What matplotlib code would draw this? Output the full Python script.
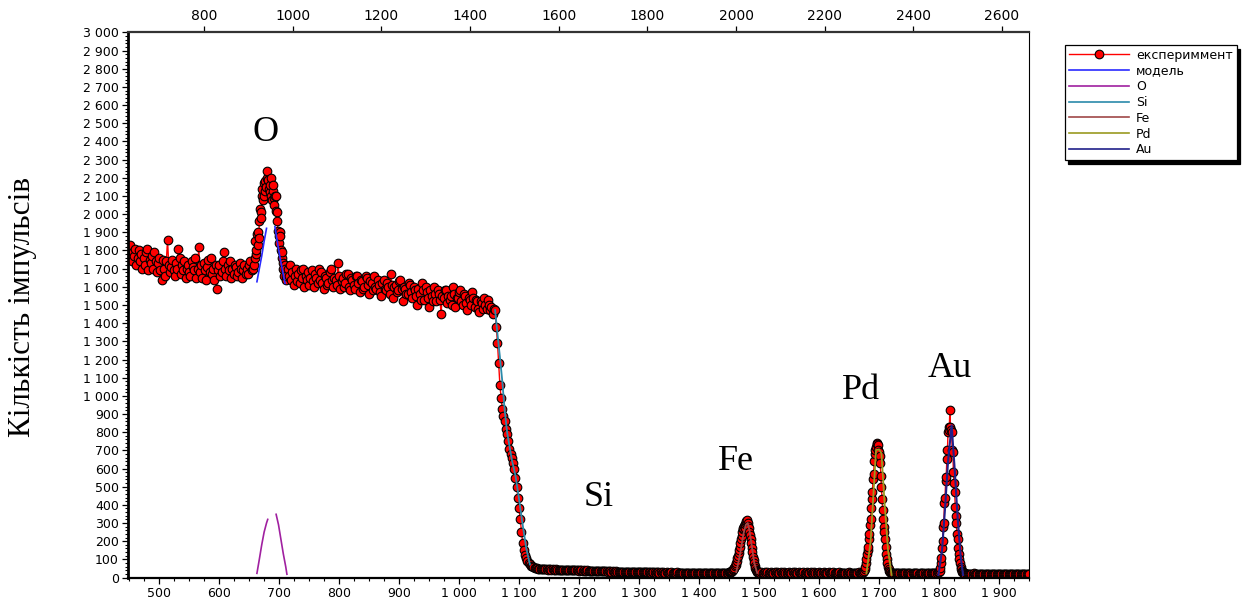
import numpy as np
import matplotlib
matplotlib.use("Agg")
import matplotlib.pyplot as plt
from matplotlib.ticker import MultipleLocator, FuncFormatter
from matplotlib.lines import Line2D

# ---------------- data (channel segments: start, step, counts) ----------------
left_start, left_step = 448, 2
left_counts = [1800, 1760, 1830, 1740, 1790, 1770, 1810, 1720, 1760, 1800,
               1740, 1780, 1700, 1760, 1720, 1790, 1810, 1690, 1750, 1730,
               1770, 1700, 1790, 1740, 1680, 1730, 1760, 1690, 1640, 1750,
               1700, 1660, 1740, 1860, 1720, 1680, 1710, 1750, 1690, 1660,
               1730, 1700, 1810, 1760, 1670, 1720, 1690, 1740, 1650, 1700,
               1720, 1680, 1660, 1740, 1710, 1690, 1760, 1650, 1700, 1820,
               1680, 1720, 1650, 1730, 1690, 1640, 1710, 1750, 1680, 1760,
               1670, 1700, 1640, 1720, 1590, 1690, 1720, 1660, 1680, 1740,
               1790, 1700, 1660, 1720, 1690, 1740, 1650, 1700, 1670, 1720,
               1710, 1660, 1680, 1730, 1700, 1650, 1690, 1720, 1670, 1700,
               1670, 1720, 1740, 1690, 1700]

opeak_start, opeak_step = 658, 1
opeak_counts = [1720, 1760, 1850, 1780, 1800, 1890, 1900, 1830, 1870, 1960,
                2030, 2010, 1980, 2100, 2140, 2080, 2100, 2170, 2180, 2130,
                2150, 2200, 2240, 2190, 2190, 2140, 2120, 2160, 2200, 2100,
                2080, 2130, 2160, 2090, 2050, 2100, 2100, 2020, 2010, 1960,
                1910, 1880, 1840, 1900, 1880, 1800, 1760, 1790, 1730, 1700,
                1660, 1720, 1700, 1640, 1660]

plateau_start, plateau_step = 714, 2
plateau_counts = [1700, 1660, 1720, 1640, 1680, 1610, 1660, 1700, 1630, 1670,
                  1620, 1690, 1650, 1700, 1600, 1660, 1640, 1680, 1610, 1650,
                  1690, 1630, 1600, 1670, 1650, 1620, 1700, 1640, 1680, 1620,
                  1590, 1660, 1650, 1610, 1620, 1680, 1700, 1640, 1600, 1650,
                  1640, 1610, 1730, 1660, 1590, 1630, 1650, 1600, 1620, 1670,
                  1670, 1600, 1580, 1650, 1640, 1610, 1590, 1660, 1660, 1620,
                  1570, 1640, 1630, 1590, 1600, 1660, 1650, 1610, 1560, 1630,
                  1620, 1580, 1660, 1600, 1590, 1640, 1610, 1570, 1550, 1620,
                  1640, 1590, 1580, 1620, 1600, 1560, 1670, 1610, 1540, 1600,
                  1610, 1570, 1580, 1630, 1640, 1590, 1520, 1600, 1590, 1560,
                  1560, 1620, 1610, 1570, 1540, 1600, 1580, 1550, 1500, 1590,
                  1560, 1530, 1620, 1580, 1530, 1600, 1570, 1540, 1490, 1580,
                  1550, 1520, 1600, 1560, 1520, 1580, 1560, 1530, 1450, 1550,
                  1540, 1580, 1580, 1510, 1550, 1530, 1550, 1500, 1600, 1560,
                  1490, 1540, 1540, 1570, 1580, 1520, 1500, 1560, 1550, 1510,
                  1470, 1540, 1530, 1500, 1570, 1540, 1490, 1530, 1520, 1480,
                  1460, 1520, 1510, 1480, 1540, 1500, 1480, 1530, 1500, 1470,
                  1490, 1450]

edge_start, edge_step = 1058, 2
edge_counts = [1480, 1470, 1380, 1290, 1180, 1060, 990, 930, 890, 860,
               820, 790, 750, 710, 680, 660, 630, 600, 550, 500,
               440, 380, 320, 250, 190, 150, 125, 105, 90, 80,
               72, 66, 62, 58, 55, 52, 50]

flat1_start, flat1_step = 1132, 2
flat1_counts = [48, 47, 48, 46, 47, 45, 46, 47, 44, 45,
                46, 44, 45, 43, 44, 45, 42, 43, 44, 42,
                43, 41, 42, 43, 41, 40, 42, 41, 40, 41,
                39, 40, 41, 39, 38, 40, 39, 38, 39, 37,
                38, 39, 37, 36, 38, 37, 36, 37, 35, 36,
                37, 35, 36, 34, 35, 36, 34, 35, 33, 34,
                35, 33, 34, 33, 32, 34, 33, 32, 33, 31,
                32, 33, 31, 32, 30, 31, 32, 30, 31, 30,
                31, 29, 30, 31, 29, 30, 28, 29, 30, 28,
                29, 30, 28, 29, 27, 28, 29, 28, 27, 28,
                29, 27, 28, 27, 28, 26, 27, 28, 27, 26,
                27, 28, 26, 27, 26, 27, 28, 26, 27, 26,
                27, 26, 27, 25, 26, 27, 26, 25, 26, 27,
                26, 25, 26, 27, 25, 26, 25, 26, 27, 25,
                26, 25, 26, 25, 27, 26, 25, 26, 25, 26,
                27, 26, 25, 26, 27, 26, 25, 26, 27]

fepeak_start, fepeak_step = 1450, 1
fepeak_counts = [28, 30, 31, 33, 35, 38, 42, 46, 50, 55,
                 62, 70, 80, 90, 105, 120, 135, 150, 170, 190,
                 210, 230, 250, 265, 275, 285, 270, 295, 300, 310,
                 315, 300, 285, 270, 250, 235, 210, 190, 165, 140,
                 115, 95, 80, 65, 52, 42, 36, 32, 29, 28, 27]

flat2_start, flat2_step = 1502, 2
flat2_counts = [27, 28, 27, 26, 28, 27, 29, 27, 26, 28,
                27, 26, 28, 27, 28, 26, 27, 29, 27, 26,
                28, 27, 26, 27, 28, 27, 26, 28, 27, 29,
                27, 26, 28, 27, 26, 27, 28, 26, 27, 28,
                26, 27, 28, 27, 26, 28, 27, 26, 27, 28,
                27, 26, 27, 28, 26, 27, 26, 28, 27, 26,
                27, 28, 26, 27, 26, 27, 28, 26, 27, 26,
                25, 27, 26, 27, 28, 26, 27, 26, 25, 27,
                26, 27, 28, 27, 26]

pdpeak_start, pdpeak_step = 1672, 1
pdpeak_counts = [27, 28, 32, 38, 45, 60, 80, 100, 130, 150,
                 170, 210, 240, 290, 320, 380, 430, 470, 540, 570,
                 640, 680, 700, 720, 740, 735, 730, 700, 690, 670,
                 630, 560, 500, 430, 370, 320, 280, 250, 210, 170,
                 130, 100, 80, 60, 45, 38, 32, 28, 27, 26,
                 26, 25, 25]

flat3_start, flat3_step = 1726, 2
flat3_counts = [25, 24, 26, 25, 24, 23, 25, 24, 25, 23,
                24, 25, 23, 24, 22, 24, 25, 23, 24, 23,
                22, 24, 23, 25, 24, 23, 22, 24, 23, 24,
                25, 23, 24, 26, 25, 27, 28]

aupeak_start, aupeak_step = 1800, 1
aupeak_counts = [28, 35, 50, 80, 110, 160, 200, 280, 300, 410,
                 440, 530, 555, 650, 700, 800, 830, 810, 920, 830,
                 810, 800, 700, 690, 580, 520, 470, 390, 340, 300,
                 240, 210, 160, 130, 100, 80, 60, 45, 38, 32,
                 28, 26, 24, 23, 22]

flat4_start, flat4_step = 1846, 2
flat4_counts = [21, 22, 21, 20, 22, 21, 23, 20, 21, 22,
                21, 20, 22, 21, 20, 21, 22, 19, 21, 20,
                22, 21, 20, 21, 19, 20, 22, 21, 20, 21,
                20, 22, 19, 21, 20, 21, 19, 20, 22, 20,
                21, 20, 19, 21, 20, 22, 20, 21, 19, 20,
                21, 20, 21]

# model and element curves (visible parts)
model_rise_ch = [663, 667, 671, 675, 679]
model_rise_val = [1628, 1700, 1770, 1850, 1922]
model_fall_ch = [693, 697, 701, 705, 710]
model_fall_val = [1931, 1850, 1770, 1700, 1619]
o_rise_ch = [663, 667, 671, 675, 679, 681]
o_rise_val = [23, 100, 180, 250, 300, 320]
o_fall_ch = [695, 699, 703, 707, 711, 713]
o_fall_val = [348, 290, 210, 130, 60, 18]
si_ch = [1060, 1064, 1068, 1072, 1076, 1080, 1088, 1094, 1100, 1106, 1112, 1118]
si_val = [1472, 1340, 1215, 1080, 920, 800, 647, 560, 430, 290, 160, 72]
fe_ch = [1462, 1466, 1470, 1474, 1478, 1481, 1484, 1488, 1492, 1497]
fe_val = [30, 90, 160, 240, 290, 300, 260, 170, 80, 25]
pd_ch = [1679, 1686, 1691, 1695, 1700, 1704, 1709, 1715, 1721]
pd_val = [23, 200, 480, 702, 705, 684, 420, 150, 14]
au_ch = [1799, 1805, 1810, 1815, 1821, 1826, 1831, 1836, 1840]
au_val = [14, 150, 380, 640, 838, 600, 330, 120, 14]

peak_labels = ["O", "Si", "Fe", "Pd", "Au"]
peak_label_ch = [677, 1233, 1462, 1670, 1818]
peak_label_cnt = [2447, 443, 636, 1032, 1153]

legend_labels = ["експериммент", "модель", "O", "Si", "Fe", "Pd", "Au"]

# energy calibration for top axis
e_offset, e_slope = 22.5, 1.353

# ---------------- build experimental series ----------------
segments = [(left_start, left_step, left_counts), (opeak_start, opeak_step, opeak_counts),
            (plateau_start, plateau_step, plateau_counts), (edge_start, edge_step, edge_counts),
            (flat1_start, flat1_step, flat1_counts), (fepeak_start, fepeak_step, fepeak_counts),
            (flat2_start, flat2_step, flat2_counts), (pdpeak_start, pdpeak_step, pdpeak_counts),
            (flat3_start, flat3_step, flat3_counts), (aupeak_start, aupeak_step, aupeak_counts),
            (flat4_start, flat4_step, flat4_counts)]
exp_ch = np.concatenate([s + st * np.arange(len(c)) for s, st, c in segments])
exp_cnt = np.concatenate([np.asarray(c, float) for _, _, c in segments])

c_exp = "#ff0000"
c_model = "#2a2aff"
c_o = "#a020a0"
c_si = "#2a8aaa"
c_fe = "#a04848"
c_pd = "#9a9a20"
c_au = "#20208a"

fig = plt.figure(figsize=(12.47, 6.06), dpi=100)
ax = fig.add_axes([0.1026, 0.047, 0.7226, 0.8994])

ax.plot(exp_ch, exp_cnt, color=c_exp, lw=1.0, marker="o", ms=6.2, mfc=c_exp,
        mec="black", mew=0.8, zorder=2)

ax.plot(model_rise_ch, model_rise_val, color=c_model, lw=1.2, zorder=3)
ax.plot(model_fall_ch, model_fall_val, color=c_model, lw=1.2, zorder=3)
ax.plot(o_rise_ch, o_rise_val, color=c_o, lw=1.2, zorder=3)
ax.plot(o_fall_ch, o_fall_val, color=c_o, lw=1.2, zorder=3)
ax.plot(si_ch, si_val, color=c_si, lw=1.3, zorder=3)
ax.plot(fe_ch, fe_val, color=c_fe, lw=1.3, zorder=3)
ax.plot(pd_ch, pd_val, color=c_pd, lw=1.3, zorder=3)
ax.plot(au_ch, au_val, color=c_au, lw=1.5, zorder=3)

for lab, cx, cy in zip(peak_labels, peak_label_ch, peak_label_cnt):
    ax.text(cx, cy, lab, fontsize=26, family="Liberation Serif", ha="center",
            va="center", zorder=4)

ax.set_xlim(448, 1950)
ax.set_ylim(0, 3000)

ax.xaxis.set_major_locator(MultipleLocator(100))
ax.xaxis.set_minor_locator(MultipleLocator(25))
ax.yaxis.set_major_locator(MultipleLocator(100))
ax.yaxis.set_minor_locator(MultipleLocator(20))
sp_fmt = FuncFormatter(lambda v, p: f"{int(round(v)):,}".replace(",", " "))
ax.xaxis.set_major_formatter(sp_fmt)
ax.yaxis.set_major_formatter(sp_fmt)
ax.tick_params(axis="both", which="major", direction="out", length=4.5, width=0.9,
               labelsize=9, pad=2)
ax.tick_params(axis="both", which="minor", direction="out", length=2.2, width=0.8)
ax.tick_params(axis="x", which="both", top=False)
ax.tick_params(axis="y", which="both", right=False)

for side, lw in [("left", 2.0), ("bottom", 1.6), ("top", 1.6), ("right", 0.8)]:
    ax.spines[side].set_linewidth(lw)
    ax.spines[side].set_color("black")
ax.spines["top"].set_color("#333333")

top = ax.secondary_xaxis("top", functions=(lambda c: e_offset + e_slope * c,
                                           lambda e: (e - e_offset) / e_slope))
top.xaxis.set_major_locator(MultipleLocator(200))
top.tick_params(axis="x", direction="out", length=4.5, width=0.9, labelsize=10, pad=2)
top.spines["top"].set_visible(False)

fig.text(0.018, 0.493, "Кількість імпульсів", rotation=90, fontsize=22.5,
         family="Liberation Serif", ha="center", va="center")

handles = [Line2D([], [], color=c_exp, lw=1.0, marker="o", ms=6.2, mfc=c_exp,
                  mec="black", mew=0.8, markevery=[1]),
           Line2D([], [], color=c_model, lw=1.2),
           Line2D([], [], color=c_o, lw=1.2),
           Line2D([], [], color=c_si, lw=1.2),
           Line2D([], [], color=c_fe, lw=1.2),
           Line2D([], [], color=c_pd, lw=1.2),
           Line2D([], [], color=c_au, lw=1.2)]
leg = ax.legend(handles, legend_labels, loc="upper left", bbox_to_anchor=(0.849, 0.936),
                bbox_transform=fig.transFigure, fontsize=9, handlelength=4.8,
                labelspacing=0.22, borderpad=0.3, handletextpad=0.6,
                fancybox=False, edgecolor="black", framealpha=1,
                shadow={"color": "black", "alpha": 1, "ox": 2.5, "oy": -2.5})
leg.get_frame().set_linewidth(0.9)

fig.savefig("out.png", dpi=100)
